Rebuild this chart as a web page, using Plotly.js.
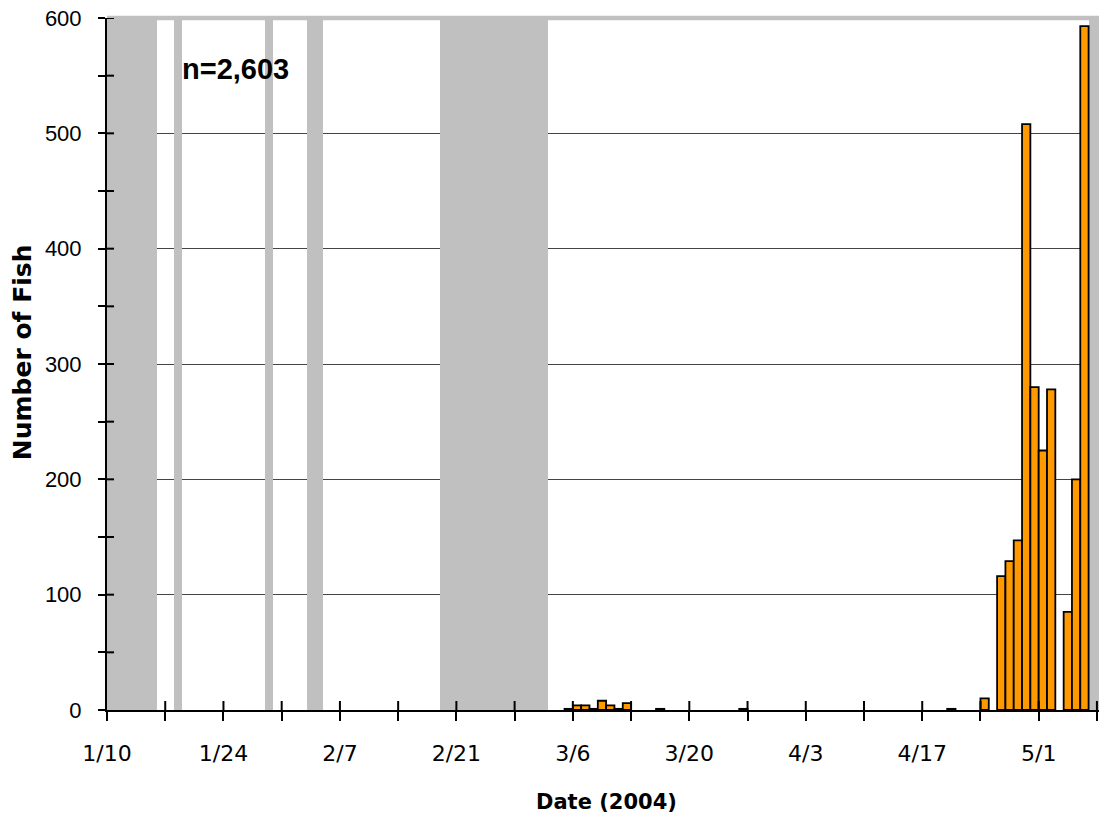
<!DOCTYPE html>
<html>
<head>
<meta charset="utf-8">
<script src="https://cdn.plot.ly/plotly-3.0.1.min.js"></script>
<style>html,body{margin:0;padding:0;background:#fff;}#chart{width:1099px;height:823px;}</style>
</head>
<body>
<div id="chart"></div>
<script>
// Daily catch (dates with fish caught)
const catchDates = ['2004-03-05','2004-03-06','2004-03-07','2004-03-08','2004-03-09','2004-03-10','2004-03-11','2004-03-12',
  '2004-03-16','2004-03-26','2004-04-20','2004-04-24','2004-04-26','2004-04-27','2004-04-28','2004-04-29','2004-04-30',
  '2004-05-01','2004-05-02','2004-05-04','2004-05-05','2004-05-06'];
const catchCounts = [1,4,4,1,8,4,1,6, 1,1,1,10,116,129,147,508,280, 225,278,85,200,593];

// Periods not sampled (inclusive start/end dates)
const notSampledStart = ['2004-01-10','2004-01-18','2004-01-29','2004-02-03','2004-02-19','2004-05-07'];
const notSampledEnd   = ['2004-01-15','2004-01-18','2004-01-29','2004-02-04','2004-03-02','2004-05-10'];

const xRange = ['2004-01-10','2004-05-08 06:00'];
const yMax = 600;
const annotationText = 'n=2,603';
const xTitle = 'Date (2004)';
const yTitle = 'Number of Fish';

const DAY = 86400000;
function t(d){ return new Date(d + 'T00:00:00Z').getTime(); }
const gapX = [], gapW = [], gapY = [];
for (let i = 0; i < notSampledStart.length; i++) {
  const s = t(notSampledStart[i]);
  const e = t(notSampledEnd[i]) + DAY;
  gapX.push(new Date((s + e) / 2).toISOString());
  gapW.push(e - s);
  gapY.push(yMax);
}

const gray = '#C0C0C0';
const traces = [
  {type:'bar', x:gapX, y:gapY, width:gapW, marker:{color:gray, line:{width:0}}, hoverinfo:'skip', showlegend:false},
  {type:'bar', x:catchDates, y:catchCounts, xperiod:DAY, xperiodalignment:'middle', width:DAY,
   marker:{color:'#FF9900', line:{color:'#000', width:1.8}}, showlegend:false}
];

// Inner halves of the crossing tick marks (Excel "cross" style), derived from the axis tick spacing
const plotW = 1099 - 107, plotH = 823 - 18 - 113;
const shapes = [
  {type:'line', xref:'paper', yref:'paper', x0:0, x1:1, y0:1, y1:1, line:{color:gray, width:4.5}, layer:'above'}
];
const xEnd = new Date(xRange[1].replace(' ', 'T') + 'Z').getTime();
for (let d = t('2004-01-10') + 7*DAY; d <= xEnd; d += 7*DAY) {
  const iso = new Date(d).toISOString();
  shapes.push({type:'line', xref:'x', yref:'paper', x0:iso, x1:iso, y0:0, y1:9/plotH,
               line:{color:'#000', width:2}, layer:'above'});
}
for (let v = 50; v <= yMax; v += 50) {
  shapes.push({type:'line', xref:'paper', yref:'y', x0:0, x1:7/plotW, y0:v, y1:v,
               line:{color:'#000', width:2}, layer:'above'});
}

const layout = {
  width:1099, height:823,
  margin:{l:107, r:0, t:18, b:113},
  paper_bgcolor:'#fff', plot_bgcolor:'#fff',
  barmode:'overlay', bargap:0,
  showlegend:false,
  xaxis:{
    type:'date', range:xRange,
    tick0:'2004-01-10', dtick:14*DAY, tickformat:'%-m/%-d',
    ticks:'outside', ticklen:9, tickwidth:2, tickcolor:'#000',
    minor:{tick0:'2004-01-10', dtick:7*DAY, ticks:'outside', ticklen:9, tickwidth:2, tickcolor:'#000', showgrid:false},
    showline:true, linecolor:'#000', linewidth:2,
    showgrid:false, zeroline:false,
    tickfont:{family:'DejaVu Sans', size:22, color:'#000'},
    ticklabelstandoff:14
  },
  yaxis:{
    range:[0,yMax], dtick:100, tick0:0,
    ticks:'outside', ticklen:7, tickwidth:2, tickcolor:'#000',
    minor:{dtick:50, tick0:0, ticks:'outside', ticklen:7, tickwidth:2, tickcolor:'#000', showgrid:false},
    showline:true, linecolor:'#000', linewidth:2,
    showgrid:true, gridcolor:'#444', gridwidth:1, zeroline:false,
    tickfont:{family:'Liberation Sans', size:22, color:'#000'},
    ticklabelstandoff:12
  },
  shapes:shapes,
  annotations:[
    {text:'<b>'+annotationText+'</b>', xref:'paper', yref:'paper', x:0.074, y:0.926,
     xanchor:'left', yanchor:'middle', showarrow:false,
     font:{family:'Liberation Sans', size:29, color:'#000'}},
    {text:'<b>'+xTitle+'</b>', xref:'paper', yref:'paper', x:0.5035, y:-0.133,
     xanchor:'center', yanchor:'middle', showarrow:false,
     font:{family:'DejaVu Sans', size:21, color:'#000'}},
    {text:'<b>'+yTitle+'</b>', xref:'paper', yref:'paper', x:-0.0857, y:0.517, textangle:-90,
     xanchor:'center', yanchor:'middle', showarrow:false,
     font:{family:'DejaVu Sans', size:25, color:'#000'}}
  ]
};

Plotly.newPlot('chart', traces, layout, {displayModeBar:false, staticPlot:true});
</script>
</body>
</html>
